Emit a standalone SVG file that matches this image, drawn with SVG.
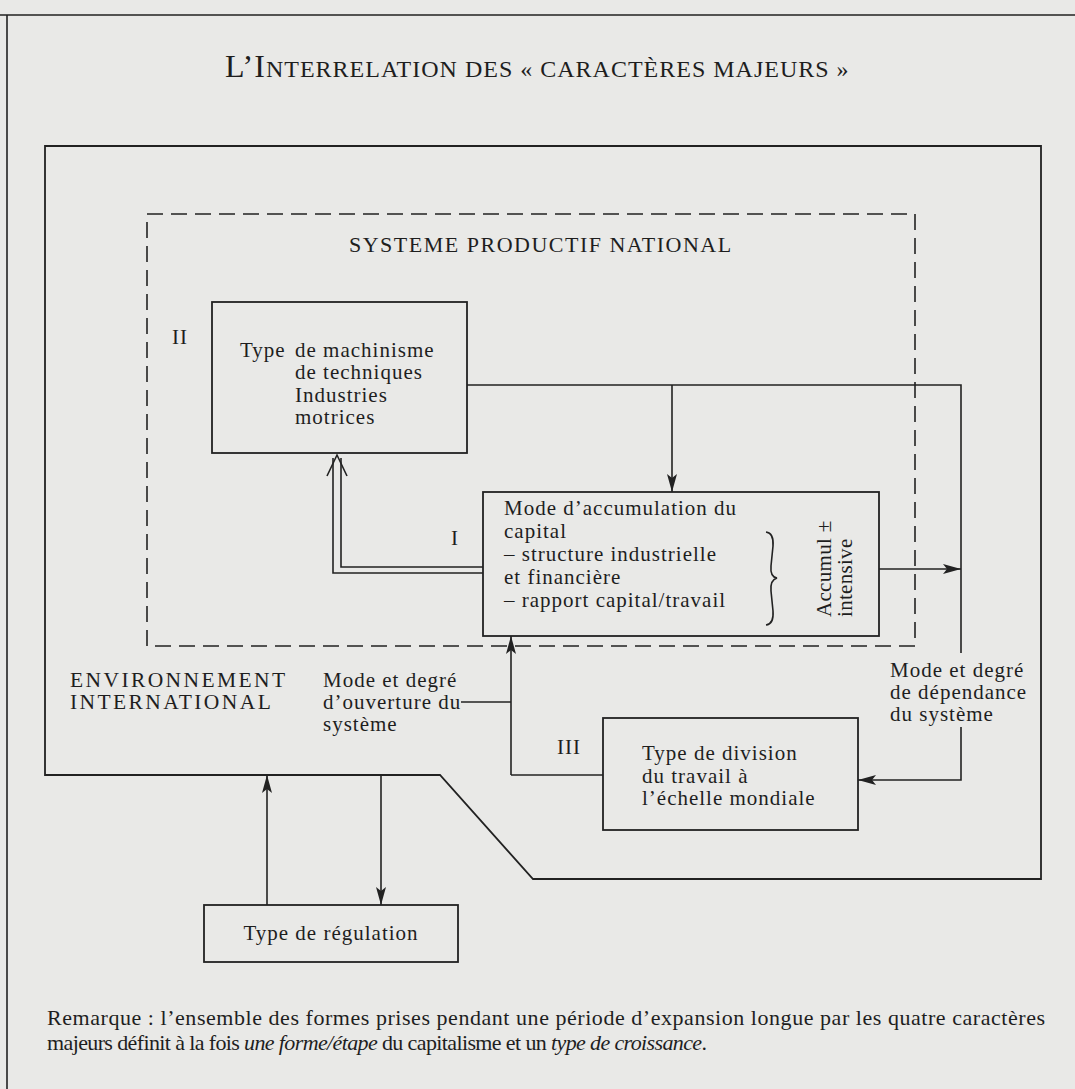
<svg xmlns="http://www.w3.org/2000/svg" width="1075" height="1089" viewBox="0 0 1075 1089">
<defs>
<style>
.bg{fill:#e9e9e7}
.ln{fill:none;stroke:#222;stroke-width:1.6}
.box{fill:none;stroke:#222;stroke-width:1.8}
.dash{fill:none;stroke:#222;stroke-width:1.6;stroke-dasharray:16 8}
.t{font-family:"Liberation Serif","Times New Roman",serif;font-size:21px;fill:#1e1e1e;letter-spacing:1px}
.caps{letter-spacing:2.4px;font-size:21.5px}
.it{font-style:italic}
</style>
<marker id="ah" markerUnits="userSpaceOnUse" markerWidth="18" markerHeight="12" refX="18" refY="6" orient="auto">
<path d="M0,1 L18,6 L0,11 L4,6 z" fill="#222"/>
</marker>
</defs>
<rect class="bg" x="0" y="0" width="1075" height="1089"/>
<g id="frame">
<path class="ln" d="M0,15 H1075 M7,15 V1089"/>
</g>
<g id="title">
<text class="t" x="225" y="77" style="letter-spacing:1px"><tspan font-size="32">L’I</tspan><tspan font-size="24">NTERRELATION DES « CARACTÈRES MAJEURS »</tspan></text>
</g>
<g id="environnement">
<path class="box" d="M45,146 H1041 V879 H533 L440,775 H45 Z"/>
<text class="t caps" x="70" y="687">ENVIRONNEMENT</text>
<text class="t caps" x="70" y="709">INTERNATIONAL</text>
</g>
<g id="systeme">
<rect class="dash" x="147" y="214" width="768" height="432"/>
<text class="t" x="349" y="252" style="letter-spacing:1.5px;font-size:22px">SYSTEME PRODUCTIF NATIONAL</text>
</g>
<g id="node-II">
<rect class="box" x="212" y="302" width="255" height="151"/>
<text class="t" x="172" y="344">II</text>
<text class="t" x="240" y="357">Type</text>
<text class="t" x="295" y="357">de machinisme</text>
<text class="t" x="295" y="379">de techniques</text>
<text class="t" x="295" y="402">Industries</text>
<text class="t" x="295" y="424">motrices</text>
</g>
<g id="node-I">
<rect class="box" x="483" y="492" width="396" height="144"/>
<text class="t" x="451" y="545">I</text>
<text class="t" x="504" y="515">Mode d’accumulation du</text>
<text class="t" x="504" y="538">capital</text>
<text class="t" x="504" y="561">– structure industrielle</text>
<text class="t" x="504" y="584">et financière</text>
<text class="t" x="504" y="607">– rapport capital/travail</text>
<path class="ln" stroke-width="2" d="M766,532 Q774,533 773,546 L771,566 Q770,577 777,578 Q770,580 771,591 L773,611 Q774,624 766,625"/>
<text class="t" transform="translate(831,617) rotate(-90)" style="letter-spacing:0.3px">Accumul ±</text>
<text class="t" transform="translate(852,617) rotate(-90)" style="letter-spacing:0.3px">intensive</text>
</g>
<g id="node-III">
<rect class="box" x="603" y="718" width="255" height="112"/>
<text class="t" x="557" y="754">III</text>
<text class="t" x="642" y="760">Type de division</text>
<text class="t" x="642" y="783">du travail à</text>
<text class="t" x="642" y="805">l’échelle mondiale</text>
</g>
<g id="node-regulation">
<rect class="box" x="204" y="905" width="254" height="57"/>
<text class="t" x="331" y="940" text-anchor="middle">Type de régulation</text>
</g>
<g id="labels">
<text class="t" x="323" y="687">Mode et degré</text>
<text class="t" x="323" y="709">d’ouverture du</text>
<text class="t" x="323" y="731">système</text>
<text class="t" x="890" y="677">Mode et degré</text>
<text class="t" x="890" y="699">de dépendance</text>
<text class="t" x="890" y="721">du système</text>
</g>
<g id="connectors">
<path class="ln" d="M467,385 H961 V653"/>
<path class="ln" d="M672,385 V492" marker-end="url(#ah)"/>
<path class="ln" d="M879,569 H961" marker-end="url(#ah)"/>
<path class="ln" d="M961,727 V780 H858" marker-end="url(#ah)"/>
<path class="ln" d="M461,702 H511"/>
<path class="ln" d="M511,775 V636" marker-end="url(#ah)"/>
<path class="ln" d="M511,775 H603"/>
<path class="ln" d="M483,573 H333 V458 M483,567 H341 V458"/>
<path class="ln" d="M327,476 L337,455 L347,476"/>
<path class="ln" d="M267,905 V775" marker-end="url(#ah)"/>
<path class="ln" d="M381,775 V905" marker-end="url(#ah)"/>
</g>
<g id="remark">
<text class="t" x="47" y="1025" textLength="998" lengthAdjust="spacing" style="letter-spacing:0;font-size:22px">Remarque : l’ensemble des formes prises pendant une période d’expansion longue par les quatre caractères</text>
<text class="t" x="47" y="1050" textLength="660" lengthAdjust="spacing" style="letter-spacing:0;font-size:22px">majeurs définit à la fois <tspan class="it">une forme/étape</tspan> du capitalisme et un <tspan class="it">type de croissance</tspan>.</text>
</g>
</svg>
